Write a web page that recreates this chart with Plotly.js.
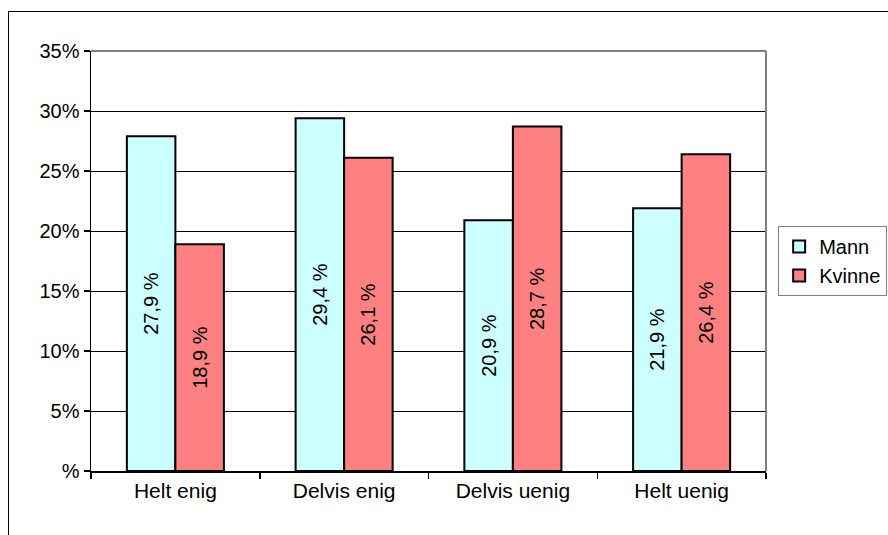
<!DOCTYPE html>
<html>
<head>
<meta charset="utf-8">
<script src="https://cdn.plot.ly/plotly-3.0.1.min.js"></script>
<style>
  html, body { margin: 0; padding: 0; background: #fff; }
  #wrap { position: relative; width: 888px; height: 535px; overflow: hidden; }
  #frame { position: absolute; left: 8px; top: 11px; width: 900px; height: 600px;
           border-left: 1.5px solid #000; border-top: 1.5px solid #000; pointer-events: none; z-index: 2; }
  #chart { position: absolute; left: 0; top: 0; width: 888px; height: 535px; }
</style>
</head>
<body>
<div id="wrap">
  <div id="chart"></div>
  <div id="frame"></div>
</div>
<script>
const categories = ["Helt enig", "Delvis enig", "Delvis uenig", "Helt uenig"];
const mannValues = [27.9, 29.4, 20.9, 21.9];
const kvinneValues = [18.9, 26.1, 28.7, 26.4];
const seriesNames = ["Mann", "Kvinne"];
const yTickVals = [0, 5, 10, 15, 20, 25, 30, 35];
const yTickText = ["%", "5%", "10%", "15%", "20%", "25%", "30%", "35%"];

const fmt = v => v.toFixed(1).replace(".", ",") + " %";
const font = "Liberation Sans, Arial, sans-serif";

function barTrace(name, vals, color) {
  return {
    type: "bar",
    name: name,
    x: categories,
    y: vals,
    text: vals.map(fmt),
    textposition: "inside",
    insidetextanchor: "middle",
    textangle: -90,
    constraintext: "none",
    textfont: { family: font, size: 20, color: "#000" },
    marker: { color: color, line: { color: "#000", width: 2 } },
    hoverinfo: "none"
  };
}

const data = [
  barTrace(seriesNames[0], mannValues, "#CCFFFF"),
  barTrace(seriesNames[1], kvinneValues, "#FF8080")
];

const layout = {
  width: 888, height: 535,
  margin: { l: 91, r: 122, t: 51, b: 64, autoexpand: false },
  paper_bgcolor: "#fff", plot_bgcolor: "#fff",
  barmode: "group", bargap: 0.425, bargroupgap: 0,
  font: { family: font, size: 20, color: "#000" },
  showlegend: true,
  legend: {
    x: 1.018, xanchor: "left", y: 0.5, yanchor: "middle",
    itemwidth: 30,
    bordercolor: "#808080", borderwidth: 1, bgcolor: "#fff",
    font: { family: font, size: 20, color: "#000" }
  },
  xaxis: {
    type: "category",
    showline: true, linecolor: "#000", linewidth: 1.5,
    ticks: "outside", tickson: "boundaries", ticklen: 6, tickcolor: "#000", tickwidth: 1.5,
    showgrid: false, zeroline: false,
    tickfont: { family: font, size: 21, color: "#000" }
  },
  yaxis: {
    range: [0, 35], tickvals: yTickVals, ticktext: yTickText,
    showline: true, linecolor: "#000", linewidth: 1.5,
    ticks: "outside", ticklen: 6, tickcolor: "#000", tickwidth: 1.5,
    showgrid: true, gridcolor: "#000", gridwidth: 1,
    zeroline: false,
    tickfont: { family: font, size: 20, color: "#000" }
  },
  shapes: [
    { type: "line", xref: "paper", yref: "paper", x0: 0, x1: 1, y0: 1, y1: 1,
      line: { color: "#808080", width: 2 }, layer: "above" },
    { type: "line", xref: "paper", yref: "paper", x0: 1, x1: 1, y0: 0, y1: 1,
      line: { color: "#808080", width: 2 }, layer: "above" }
  ]
};

Plotly.newPlot("chart", data, layout, { displayModeBar: false, staticPlot: true });
</script>
</body>
</html>
